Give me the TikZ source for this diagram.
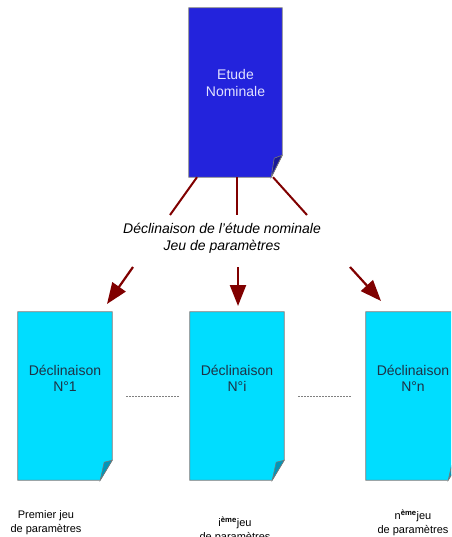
\documentclass[tikz,border=0pt]{standalone}
\usepackage{fontspec}
\setmainfont{Liberation Sans}
\usetikzlibrary{arrows.meta,calc}
\definecolor{topfill}{RGB}{35,35,220}
\definecolor{topflap}{RGB}{25,25,150}
\definecolor{botfill}{RGB}{0,221,255}
\definecolor{botflap}{RGB}{0,150,185}
\definecolor{edge}{RGB}{120,120,120}
\definecolor{arr}{RGB}{128,0,0}
\definecolor{toptext}{RGB}{225,225,255}
\definecolor{bottext}{RGB}{30,50,70}
\tikzset{
  pagebox/.style={minimum width=94pt, minimum height=168pt, inner sep=0pt, draw=none},
  topshape/.style={fill=topfill, draw=edge, line width=0.8pt, line join=miter},
  botshape/.style={fill=botfill, draw=edge, line width=0.8pt, line join=miter},
  boxtext/.style={align=center, inner sep=0pt, font=\fontsize{14}{16.5}\selectfont},
  redline/.style={draw=arr, line width=2pt},
  redarrow/.style={draw=arr, line width=2.2pt, -{Triangle[length=21pt,width=16pt]}},
  dots/.style={draw=gray, line width=0.7pt, dash pattern=on 2pt off 1pt},
  smalltext/.style={align=center, inner sep=0pt, font=\fontsize{11}{14}\selectfont}
}
\begin{document}
\begin{tikzpicture}[x=1pt,y=-1pt]
\clip (0,0) rectangle (451,537);
\fill[white] (0,0) rectangle (451,537);
% top box
\node[pagebox, minimum width=93pt, minimum height=169pt] (top) at (235.5,92.5) {};
\path[topshape] (top.north west) -- (top.north east) -- ([yshift=22pt]top.south east)
  -- ([xshift=-11pt]top.south east) -- (top.south west) -- cycle;
\path[fill=topflap, draw=edge, line width=0.6pt] ([xshift=-11pt]top.south east) -- ([yshift=22pt]top.south east)
  -- ([xshift=-8pt,yshift=19pt]top.south east) -- cycle;
\node[boxtext, text=toptext] (toptxt) at (235.5,83) {Etude\\Nominale};
% bottom boxes
\foreach \n/\cx/\t in {b1/65/N°1, b2/237/N°i, b3/413/N°n}{
  \node[pagebox] (\n) at (\cx,396) {};
  \path[botshape] (\n.north west) -- (\n.north east) -- ([yshift=20pt]\n.south east)
    -- ([xshift=-12pt]\n.south east) -- (\n.south west) -- cycle;
  \path[fill=botflap, draw=edge, line width=0.6pt] ([xshift=-12pt]\n.south east) -- ([yshift=20pt]\n.south east)
    -- ([xshift=-8pt,yshift=18pt]\n.south east) -- cycle;
  \node[boxtext, text=bottext] (\n txt) at (\cx,378.5) {Déclinaison\\\t};
}
% label
\node[align=center, inner sep=0pt, font=\fontsize{14}{17}\selectfont\itshape] (lab) at (222,238.5)
  {Déclinaison de l'étude nominale\\Jeu de paramètres};
% lines from top box
\coordinate (e1) at (170,215);
\coordinate (e2) at (237,215);
\coordinate (e3) at (307,215);
\draw[redline] (top.south west -| 197,0) -- (e1);
\draw[redline] (top.south west -| 237,0) -- (e2);
\draw[redline] (top.south west -| 273,0) -- (e3);
% arrows to boxes
\coordinate (s1) at (133,267);
\coordinate (s2) at (238,267);
\coordinate (s3) at (350,267);
\coordinate (d1) at (107,304);
\coordinate (d2) at (238,306);
\coordinate (d3) at (381,301);
\draw[redarrow] (s1) -- (d1);
\draw[redarrow] (s2) -- (d2);
\draw[redarrow] (s3) -- (d3);
% dashed separators
\draw[dots] ([xshift=14pt]b1.east) -- ([xshift=-10pt]b2.west);
\draw[dots] ([xshift=14pt]b2.east) -- ([xshift=-14pt]b3.west);
% bottom labels
\node[smalltext] (l1) at (46,523) {Premier jeu\\de paramètres};
\node[smalltext] (l2) at (235,529.5) {i\textsuperscript{\textbf{ème}}jeu\\de paramètres};
\node[smalltext] (l3) at (413,523) {n\textsuperscript{\textbf{ème}}jeu\\de paramètres};
\end{tikzpicture}
\end{document}
